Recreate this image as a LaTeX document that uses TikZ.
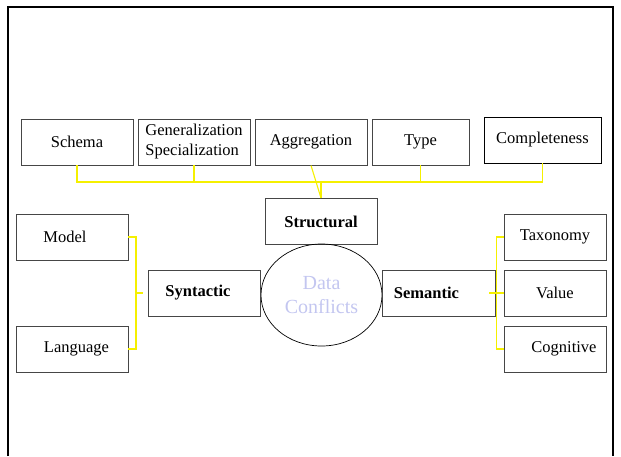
\documentclass[tikz,border=0pt]{standalone}
\usepackage{fontspec}
\setmainfont{Liberation Serif}
\usetikzlibrary{shapes.geometric}
\usetikzlibrary{positioning}
\definecolor{linkyellow}{RGB}{245,240,0}
\definecolor{softblue}{RGB}{195,198,240}
\definecolor{boxgray}{RGB}{70,70,70}
\tikzset{
  termbox/.style={draw=boxgray, line width=0.9pt, minimum height=46pt, minimum width=112pt, inner sep=0pt, font=\fontsize{16.5}{20}\selectfont},
  yline/.style={draw=linkyellow, line width=1.1pt},
}

\begin{document}
\begin{tikzpicture}[x=1pt,y=-1pt]
  \useasboundingbox (0,0) rectangle (621,456);
  \draw[line width=2.4pt] (8,456) -- (8,7) -- (613,7) -- (613,456);
  % top row
  \node[termbox] (schema) at (77,142) {Schema};
  \node[termbox, align=left] (gen) at (194,142) {Generalization\\Specialization};
  \node[termbox] (aggr) at (311,142) {Aggregation};
  \node[termbox, minimum width=97pt] (type) at (420.5,142) {Type};
  \node[termbox, draw=black, minimum width=117pt] (compl) at (542.5,140) {Completeness};
  \node[termbox] (structural) at (321,221.5) {\textbf{Structural}};
  % middle
  \node[draw, ellipse, line width=0.7pt, minimum width=121pt, minimum height=102pt, inner sep=0pt, align=center, text=softblue, font=\fontsize{20}{24}\selectfont] (core) at (321.5,295) {Data\\Conflicts};
  \node[termbox] (syntactic) at (204,293) {\textbf{Syntactic}\hspace*{12pt}};
  \node[termbox, minimum width=113pt] (semantic) at (438.5,293) {\textbf{Semantic}\hspace*{24pt}};
  % left side
  \node[termbox] (model) at (72,237) {Model\hspace*{14pt}};
  \node[termbox] (language) at (72,349) {\hspace*{9pt}Language};
  % right side
  \node[termbox, minimum width=102pt] (taxonomy) at (555,237) {Taxonomy};
  \node[termbox, minimum width=102pt] (value) at (555,293) {Value};
  \node[termbox, minimum width=102pt] (cognitive) at (555,349) {\hspace*{18pt}Cognitive};
  % links
  \coordinate (hub) at (321,182);
  \draw[yline] (schema.south) |- (hub);
  \draw[yline] (gen.south) |- (hub);
  \draw[yline] (type.south) |- (hub);
  \draw[yline] (compl.south) |- (hub);
  \draw[yline] (hub) -- (structural.north);
  \draw[yline] (aggr.south) -- (structural.north);
  \coordinate (lfork) at (136,293);
  \draw[yline] (model.east) -| (lfork) |- (language.east);
  \draw[yline, shorten >=5pt] (lfork) -- (syntactic.west);
  \coordinate (rfork) at (496.5,293);
  \draw[yline] (taxonomy.west) -| (rfork) |- (cognitive.west);
  \draw[yline, line width=1.8pt, shorten <=-6pt] (semantic.east) -- (value.west);
\end{tikzpicture}
\end{document}
